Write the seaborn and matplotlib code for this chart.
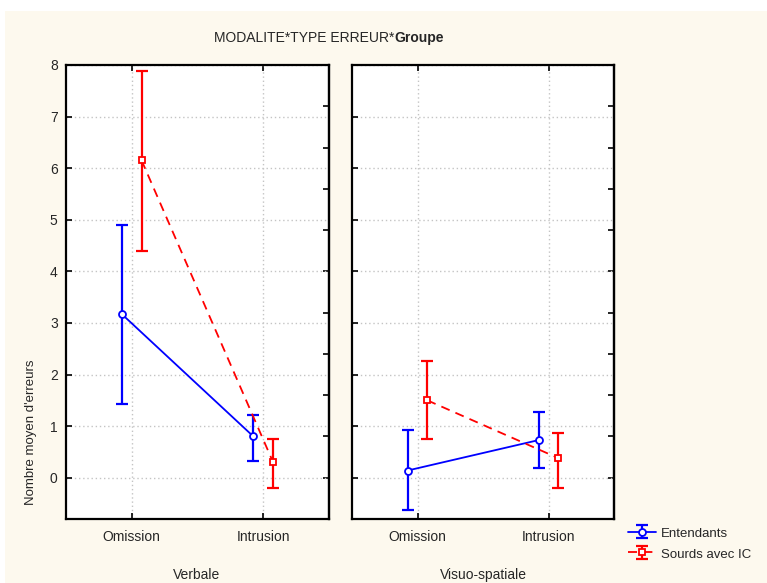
import matplotlib

matplotlib.use("Agg")
import matplotlib.pyplot as plt
import numpy as np
import pandas as pd
import seaborn as sns
from matplotlib.patches import Rectangle

# data
modalites = ["Verbale", "Visuo-spatiale"]
types = ["Omission", "Intrusion"]
groupes = ["Entendants", "Sourds avec IC"]

# means, per modality [Omission, Intrusion]
ent_mean = {"Verbale": [3.17, 0.80], "Visuo-spatiale": [0.14, 0.73]}
ent_low = {"Verbale": [1.42, 0.33], "Visuo-spatiale": [-0.62, 0.18]}
ent_high = {"Verbale": [4.90, 1.22], "Visuo-spatiale": [0.92, 1.27]}

sou_mean = {"Verbale": [6.15, 0.30], "Visuo-spatiale": [1.50, 0.38]}
sou_low = {"Verbale": [4.40, -0.20], "Visuo-spatiale": [0.76, -0.20]}
sou_high = {"Verbale": [7.88, 0.76], "Visuo-spatiale": [2.27, 0.87]}

rows = []
for m in modalites:
    for i, t in enumerate(types):
        rows.append(dict(modalite=m, type=t, groupe=groupes[0], mean=ent_mean[m][i],
                         low=ent_low[m][i], high=ent_high[m][i]))
        rows.append(dict(modalite=m, type=t, groupe=groupes[1], mean=sou_mean[m][i],
                         low=sou_low[m][i], high=sou_high[m][i]))
df = pd.DataFrame(rows)

sns.set_theme(style="white")
plt.rcParams["font.family"] = ["Liberation Sans", "DejaVu Sans"]

W, H = 767, 583
fig = plt.figure(figsize=(W / 100, H / 100), dpi=100)
fig.patch.set_facecolor("white")
fig.add_artist(Rectangle((5 / W, 0), 1, 1 - 11 / H, transform=fig.transFigure,
                         facecolor="#fdf9ee", edgecolor="none", zorder=-10))

bottom = 1 - 519 / H
height = (519 - 65) / H
ax1 = fig.add_axes([66 / W, bottom, (329 - 66) / W, height])
ax2 = fig.add_axes([352 / W, bottom, (614 - 352) / W, height], sharey=ax1)

colors = {groupes[0]: "#0000ff", groupes[1]: "#ff0000"}
markers = {groupes[0]: "o", groupes[1]: "s"}
dashes = {groupes[0]: "-", groupes[1]: (0, (5, 3.5))}
offsets = {groupes[0]: -0.075, groupes[1]: 0.075}

handles = {}
for ax, m in zip([ax1, ax2], modalites):
    ax.set_facecolor("white")
    sub = df[df.modalite == m].copy()
    sub["x"] = sub["type"].map({t: i for i, t in enumerate(types)}) + sub["groupe"].map(offsets)
    for g in groupes:
        d = sub[sub.groupe == g]
        eb = ax.errorbar(d["x"], d["mean"], yerr=[d["mean"] - d["low"], d["high"] - d["mean"]],
                         fmt="none", ecolor=colors[g], elinewidth=1.6, capsize=4.5,
                         capthick=1.6, zorder=3)
        sns.lineplot(data=d, x="x", y="mean", ax=ax, color=colors[g], lw=1.3,
                     linestyle=dashes[g], marker=markers[g], markersize=5,
                     markerfacecolor="white", markeredgecolor=colors[g],
                     markeredgewidth=1.3, zorder=4, legend=False)
        handles[g] = (eb, ax.lines[-1])

    ax.set_xlim(-0.5, 1.5)
    ax.set_ylim(-0.8, 8)
    ax.set_xticks([0, 1])
    ax.set_xticklabels(types, fontsize=10)
    ax.set_yticks(range(0, 9))
    ax.set_xlabel("")
    ax.set_ylabel("")
    ax.grid(True, color="#c4c4c4", linestyle=(0, (1, 2)), lw=1.0)
    ax.tick_params(axis="x", direction="in", top=True, bottom=True, length=4,
                   width=1.2, color="black", pad=8)
    ax.tick_params(axis="y", direction="in", left=True, right=False, length=4,
                   width=1.2, color="black", labelsize=10, pad=6)
    for s in ax.spines.values():
        s.set_color("black")
        s.set_linewidth(1.6)
    # odd secondary ticks on the right spine
    sec = ax.secondary_yaxis("right")
    sec.set_yticks(np.arange(-0.8, 8.01, 0.8))
    sec.tick_params(direction="in", length=4, width=1.2, color="black", labelright=False)
    sec.spines["right"].set_linewidth(1.6)

ax2.tick_params(axis="y", labelleft=False)

fig.text(394 / W, 1 - 38 / H, "MODALITE*TYPE ERREUR*", ha="right", va="center", fontsize=10)
fig.text(394 / W, 1 - 38 / H, "Groupe", ha="left", va="center", fontsize=10, fontweight="bold")
fig.text(31 / W, 1 - 432 / H, "Nombre moyen d'erreurs", rotation=90, ha="center",
         va="center", fontsize=9.5)
fig.text(197 / W, 1 - 575 / H, "Verbale", ha="center", va="center", fontsize=10)
fig.text(483 / W, 1 - 575 / H, "Visuo-spatiale", ha="center", va="center", fontsize=10)

fig.legend([handles[g] for g in groupes], groupes, loc="upper left",
           bbox_to_anchor=(628 / W, 1 - 526 / H), frameon=False, fontsize=9.5,
           handlelength=2.1, handleheight=1.2, handletextpad=0.4, labelspacing=0.5,
           borderpad=0.0, borderaxespad=0)

fig.savefig("out.png", dpi=100)
